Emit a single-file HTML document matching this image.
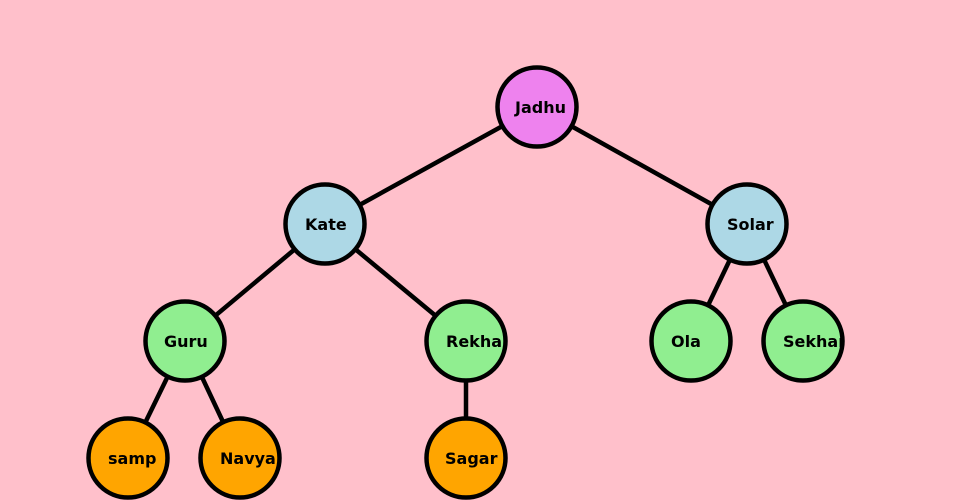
<!DOCTYPE html>
<html><head><style>
html,body{margin:0;padding:0;background:#ffc0cb;}
svg{display:block}
text{font-family:"DejaVu Sans","Liberation Sans",sans-serif;font-weight:bold;font-size:16px;}
</style></head><body>
<svg width="960" height="500" viewBox="0 0 960 500">
<rect width="960" height="500" fill="#ffc0cb"/>
<g stroke="#000" stroke-width="4.5">
<line x1="537" y1="107" x2="325" y2="224"/>
<line x1="537" y1="107" x2="747" y2="224"/>
<line x1="325" y1="224" x2="185" y2="341"/>
<line x1="325" y1="224" x2="466" y2="341"/>
<line x1="747" y1="224" x2="691" y2="341"/>
<line x1="747" y1="224" x2="803" y2="341"/>
<line x1="185" y1="341" x2="128" y2="458"/>
<line x1="185" y1="341" x2="240" y2="458"/>
<line x1="466" y1="341" x2="466" y2="458"/>
</g>
<defs>
<clipPath id="c1"><circle cx="803" cy="341" r="41"/></clipPath>
</defs>
<g stroke="#000" stroke-width="4.5">
<circle cx="537" cy="107" r="39.5" fill="#ee82ee"/>
<circle cx="325" cy="224" r="39.5" fill="#add8e6"/>
<circle cx="747" cy="224" r="39.5" fill="#add8e6"/>
<circle cx="185" cy="341" r="39.5" fill="#90ee90"/>
<circle cx="466" cy="341" r="39.5" fill="#90ee90"/>
<circle cx="691" cy="341" r="39.5" fill="#90ee90"/>
<circle cx="803" cy="341" r="39.5" fill="#90ee90"/>
<circle cx="128" cy="458" r="39.5" fill="#ffa500"/>
<circle cx="240" cy="458" r="39.5" fill="#ffa500"/>
<circle cx="466" cy="458" r="39.5" fill="#ffa500"/>
</g>
<g fill="#000">
<text x="515" y="113">Jadhu</text>
<text x="305" y="230">Kate</text>
<text x="727" y="230">Solar</text>
<text x="164" y="347">Guru</text>
<text x="446" y="347">Rekha</text>
<text x="671" y="347">Ola</text>
<text x="783" y="347" clip-path="url(#c1)">Sekhar</text>
<text x="108" y="464">samp</text>
<text x="220" y="464">Navya</text>
<text x="445" y="464">Sagar</text>
</g>
</svg>
</body></html>
